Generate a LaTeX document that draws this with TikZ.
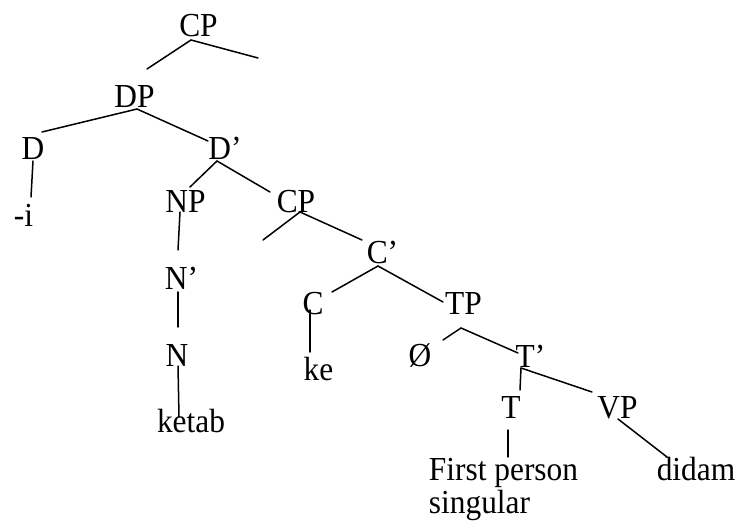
\documentclass[tikz,border=0pt]{standalone}
\usepackage{graphicx}
\usepackage{fontspec}
\setmainfont{Liberation Serif}
\newcommand\tl[1]{\scalebox{1}[1.07]{#1}}
\begin{document}
\begin{tikzpicture}[x=1pt,y=-1pt,
  lbl/.style={anchor=base,inner sep=0pt,outer sep=0pt,font=\fontsize{31.4}{35}\selectfont},
  edge/.style={line width=1.5pt,line cap=round}]
\useasboundingbox (0,0) rectangle (736,521);
% nodes
\node[lbl] (cp1) at (198.5,37) {\tl{CP}};
\node[lbl] (dp) at (134.5,108) {\tl{DP}};
\node[lbl] (d) at (33,160) {\tl{D}};
\node[lbl] (di) at (23.5,227) {\tl{-i}};
\node[lbl] (dbar) at (225,160) {\tl{D’}};
\node[lbl] (np) at (185.5,213) {\tl{NP}};
\node[lbl] (cp2) at (296,213) {\tl{CP}};
\node[lbl] (nbar) at (181.5,290) {\tl{N’}};
\node[lbl] (n) at (177,366) {\tl{N}};
\node[lbl] (ketab) at (191,432) {\tl{ketab}};
\node[lbl] (cbar) at (382.5,264) {\tl{C’}};
\node[lbl] (c) at (313,315) {\tl{C}};
\node[lbl] (tp) at (463.5,315) {\tl{TP}};
\node[lbl] (ke) at (318.5,380) {\tl{ke}};
\node[lbl] (null) at (420,366) {\tl{Ø}};
\node[lbl] (tbar) at (530.5,367) {\tl{T’}};
\node[lbl] (t) at (511,418) {\tl{T}};
\node[lbl] (vp) at (617.5,418) {\tl{VP}};
\node[lbl] (fp) at (503.5,480) {\tl{First person}};
\node[lbl,anchor=base west] (sg) at (fp.base west|-0,513) {\tl{singular}};
\node[lbl] (didam) at (696,480) {\tl{didam}};
\coordinate (cp1r) at (258,58);
\coordinate (cp2l) at (263,240);
% connectors
\draw[edge] ([shift={(-7.5,3)}]cp1.base) -- ([shift={(12.5,-39)}]dp.base);
\draw[edge] ([shift={(-7.5,3)}]cp1.base) -- (cp1r);
\draw[edge] ([shift={(2.5,1)}]dp.base) -- ([shift={(9,-28)}]d.base);
\draw[edge] ([shift={(2.5,1)}]dp.base) -- ([shift={(-17,-19)}]dbar.base);
\draw[edge] ([shift={(0,1)}]d.base) -- ([shift={(7.5,-30)}]di.base);
\draw[edge] ([shift={(-8,1)}]dbar.base) -- ([shift={(4.5,-26)}]np.base);
\draw[edge] ([shift={(-8,1)}]dbar.base) -- ([shift={(-26,-21)}]cp2.base);
\draw[edge] ([shift={(-5.5,-1)}]np.base) -- ([shift={(-3.5,-40)}]nbar.base);
\draw[edge] ([shift={(-3.5,2)}]nbar.base) -- ([shift={(1,-39)}]n.base);
\draw[edge] ([shift={(1,0)}]n.base) -- ([shift={(-12,-15)}]ketab.base);
\draw[edge] ([shift={(4,-1)}]cp2.base) -- (cp2l);
\draw[edge] ([shift={(4,-1)}]cp2.base) -- ([shift={(-20.5,-24)}]cbar.base);
\draw[edge] ([shift={(-4.5,2)}]cbar.base) -- ([shift={(19,-23)}]c.base);
\draw[edge] ([shift={(-4.5,2)}]cbar.base) -- ([shift={(-20.5,-13)}]tp.base);
\draw[edge] ([shift={(-3,-5)}]c.base) -- ([shift={(-8.5,-28)}]ke.base);
\draw[edge] ([shift={(-2.5,13)}]tp.base) -- ([shift={(23,-26)}]null.base);
\draw[edge] ([shift={(-2.5,13)}]tp.base) -- ([shift={(-12.5,-14)}]tbar.base);
\draw[edge] ([shift={(-9.5,1)}]tbar.base) -- ([shift={(9,-28)}]t.base);
\draw[edge] ([shift={(-9.5,1)}]tbar.base) -- ([shift={(-25.5,-26)}]vp.base);
\draw[edge] ([shift={(-3,12)}]t.base) -- ([shift={(4.5,-23)}]fp.base);
\draw[edge] ([shift={(0.5,1)}]vp.base) -- ([shift={(-29,-23)}]didam.base);
\end{tikzpicture}
\end{document}
